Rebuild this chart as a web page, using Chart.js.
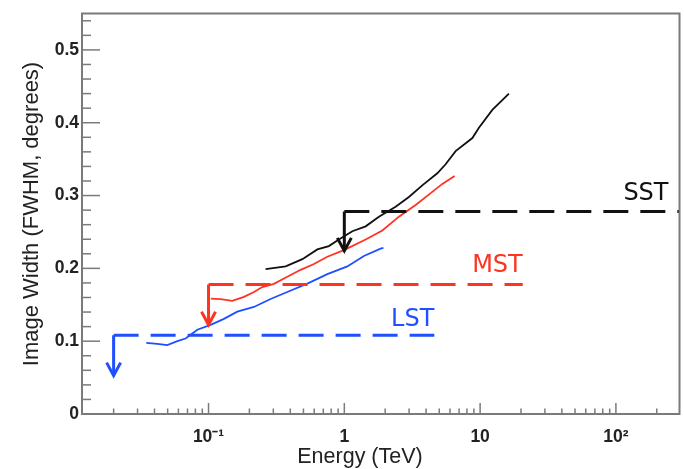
<!DOCTYPE html>
<html>
<head>
<meta charset="utf-8">
<script src="https://cdn.jsdelivr.net/npm/chart.js@4.4.1/dist/chart.umd.min.js"></script>
<style>
  html, body { margin: 0; padding: 0; background: #fff; }
  #wrap { width: 684px; height: 469px; }
</style>
</head>
<body>
<div id="wrap"><canvas id="psf-chart" width="684" height="469"></canvas></div>
<script>
// Image width vs energy per telescope type (energy in TeV, width in degrees FWHM)
const lstEnergy = [0.0348, 0.042, 0.0497, 0.0589, 0.0678, 0.0827, 0.1036, 0.1298, 0.1629, 0.2159, 0.2864, 0.380, 0.534, 0.750, 1.052, 1.394, 1.85, 1.94];
const lstWidth  = [0.0977, 0.0963, 0.0946, 0.100, 0.1036, 0.1158, 0.1225, 0.1306, 0.1405, 0.147, 0.158, 0.1676, 0.179, 0.192, 0.2027, 0.217, 0.227, 0.228];

const mstEnergy = [0.104, 0.1228, 0.1496, 0.1823, 0.216, 0.2489, 0.3031, 0.3802, 0.4768, 0.5975, 0.7495, 0.993, 1.436, 1.905, 2.524, 3.35, 4.445, 5.27, 6.49];
const mstWidth  = [0.1585, 0.1577, 0.1554, 0.1608, 0.1676, 0.1743, 0.1788, 0.1885, 0.198, 0.206, 0.216, 0.225, 0.2396, 0.252, 0.271, 0.287, 0.305, 0.316, 0.327];

const sstEnergy = [0.263, 0.370, 0.491, 0.633, 0.770, 0.912, 1.146, 1.436, 1.798, 2.387, 2.99, 3.75, 4.84, 5.57, 6.60, 8.77, 9.80, 12.3, 16.3];
const sstWidth  = [0.199, 0.2027, 0.2126, 0.226, 0.2306, 0.2396, 0.251, 0.2577, 0.271, 0.2847, 0.298, 0.314, 0.3306, 0.343, 0.361, 0.379, 0.393, 0.4176, 0.440];

// Requirement lines: SST, MST, LST
const reqNames    = ['SST', 'MST', 'LST'];
const reqStartE   = [1, 0.1, 0.02];
const reqEndE     = [300, 20.6, 4.6];
const reqWidth    = [0.278, 0.178, 0.108];
const reqArrowTip = [0.224, 0.1225, 0.0527];
const reqColors   = ['#111111', '#ff3322', '#1f4fff'];
const labelE      = [244, 20.6, 4.6];
const labelW      = [0.2937, 0.1946, 0.1203];

// Axis ticks
const xMajorTicks = [0.1, 1, 10, 100];
const xTickLabels = ['10\u207B\u00B9', '1', '10', '10\u00B2'];
const xMinorTicks = [0.02, 0.03, 0.04, 0.05, 0.06, 0.07, 0.08, 0.09,
                     0.2, 0.3, 0.4, 0.5, 0.6, 0.7, 0.8, 0.9,
                     2, 3, 4, 5, 6, 7, 8, 9,
                     20, 30, 40, 50, 60, 70, 80, 90, 200];
const yMajorTicks = [0, 0.1, 0.2, 0.3, 0.4, 0.5];
const yTickLabels = ['0', '0.1', '0.2', '0.3', '0.4', '0.5'];

const TICK_FONT = { family: "'Liberation Sans', Arial, sans-serif", size: 17.5, weight: 'bold' };

function toPoints(xs, ys) {
    return xs.map((x, i) => ({ x: x, y: ys[i] }));
}

function buildDatasets() {
    const sets = [];
    // dashed requirement levels and the vertical arrow shafts
    reqNames.forEach((name, i) => {
        sets.push({
            label: name + ' requirement',
            data: [{ x: reqStartE[i], y: reqWidth[i] }, { x: reqEndE[i], y: reqWidth[i] }],
            borderColor: reqColors[i],
            borderWidth: 3,
            borderDash: [25, 12],
            pointRadius: 0
        });
        sets.push({
            label: name + ' arrow',
            data: [{ x: reqStartE[i], y: reqWidth[i] }, { x: reqStartE[i], y: reqArrowTip[i] }],
            borderColor: reqColors[i],
            borderWidth: 3,
            pointRadius: 0
        });
    });
    // measured curves
    const curves = [
        { name: 'SST', xs: sstEnergy, ys: sstWidth, color: reqColors[0] },
        { name: 'MST', xs: mstEnergy, ys: mstWidth, color: reqColors[1] },
        { name: 'LST', xs: lstEnergy, ys: lstWidth, color: reqColors[2] }
    ];
    curves.forEach(c => {
        sets.push({
            label: c.name,
            data: toPoints(c.xs, c.ys),
            borderColor: c.color,
            borderWidth: 1.8,
            pointRadius: 0,
            tension: 0
        });
    });
    return sets;
}

// Frame, inward ticks, arrowheads, labels and axis titles
const frameDecor = {
    id: 'frameDecor',
    afterDatasetsDraw(chart) {
        const ctx = chart.ctx;
        const xs = chart.scales.x;
        const ys = chart.scales.y;
        ctx.save();
        ctx.lineWidth = 3;
        ctx.lineJoin = 'miter';
        reqNames.forEach((name, i) => {
            const px = xs.getPixelForValue(reqStartE[i]);
            const py = ys.getPixelForValue(reqArrowTip[i]);
            ctx.strokeStyle = reqColors[i];
            ctx.beginPath();
            ctx.moveTo(px - 7, py - 13);
            ctx.lineTo(px, py);
            ctx.lineTo(px + 7, py - 13);
            ctx.stroke();

            ctx.fillStyle = reqColors[i];
            ctx.font = "24px 'DejaVu Sans', Verdana, sans-serif";
            ctx.textAlign = 'right';
            ctx.textBaseline = 'alphabetic';
            ctx.fillText(name, xs.getPixelForValue(labelE[i]), ys.getPixelForValue(labelW[i]));
        });
        ctx.restore();
    },
    afterDraw(chart) {
        const ctx = chart.ctx;
        const a = chart.chartArea;
        ctx.save();
        ctx.strokeStyle = '#7a7a7a';
        ctx.lineWidth = 1.5;

        // tick marks pointing into the frame
        chart.scales.x.ticks.forEach(t => {
            const p = chart.scales.x.getPixelForValue(t.value);
            const len = t.major ? 11 : 5.5;
            ctx.beginPath();
            ctx.moveTo(p, a.bottom);
            ctx.lineTo(p, a.bottom - len);
            ctx.stroke();
        });
        chart.scales.y.ticks.forEach(t => {
            const p = chart.scales.y.getPixelForValue(t.value);
            const len = t.major ? 18 : 9;
            ctx.beginPath();
            ctx.moveTo(a.left, p);
            ctx.lineTo(a.left + len, p);
            ctx.stroke();
        });

        ctx.lineWidth = 2;
        ctx.strokeRect(a.left, a.top, a.right - a.left, a.bottom - a.top);

        // axis titles
        ctx.fillStyle = '#222';
        ctx.textAlign = 'center';
        ctx.textBaseline = 'alphabetic';
        ctx.font = "21.5px 'Liberation Sans', Arial, sans-serif";
        ctx.fillText('Energy (TeV)', 360, 463);
        ctx.font = "22px 'Liberation Sans', Arial, sans-serif";
        ctx.translate(38, 214);
        ctx.rotate(-Math.PI / 2);
        ctx.fillText('Image Width (FWHM, degrees)', 0, 0);
        ctx.restore();
    }
};

const chart = new Chart(document.getElementById('psf-chart'), {
    type: 'line',
    data: { datasets: buildDatasets() },
    options: {
        responsive: false,
        animation: false,
        events: [],
        layout: { padding: { left: 0, top: 7, right: 4.5, bottom: 0 } },
        plugins: {
            legend: { display: false },
            tooltip: { enabled: false }
        },
        scales: {
            x: {
                type: 'logarithmic',
                min: 0.0117,
                max: 294,
                grid: { display: false, drawTicks: false },
                border: { display: false },
                afterBuildTicks(scale) {
                    const ticks = xMajorTicks.map(v => ({ value: v, major: true }))
                        .concat(xMinorTicks.map(v => ({ value: v, major: false })));
                    ticks.sort((p, q) => p.value - q.value);
                    scale.ticks = ticks;
                },
                afterFit(scale) { scale.height = 55; },
                ticks: {
                    autoSkip: false,
                    maxRotation: 0,
                    padding: 13,
                    color: '#222',
                    font: TICK_FONT,
                    callback(value) {
                        const k = xMajorTicks.indexOf(value);
                        return k >= 0 ? xTickLabels[k] : '';
                    }
                }
            },
            y: {
                type: 'linear',
                min: 0,
                max: 0.55,
                grid: { display: false, drawTicks: false },
                border: { display: false },
                afterBuildTicks(scale) {
                    const ticks = [];
                    for (let k = 0; k <= 27; k++) {
                        const v = Math.round(k * 2) / 100;
                        ticks.push({ value: v, major: k % 5 === 0 });
                    }
                    scale.ticks = ticks;
                },
                afterFit(scale) { scale.width = 82; },
                ticks: {
                    autoSkip: false,
                    padding: 3,
                    color: '#222',
                    font: TICK_FONT,
                    callback(value) {
                        const k = yMajorTicks.findIndex(v => Math.abs(v - value) < 1e-6);
                        return k >= 0 ? yTickLabels[k] : '';
                    }
                }
            }
        }
    },
    plugins: [frameDecor]
});
</script>
</body>
</html>
